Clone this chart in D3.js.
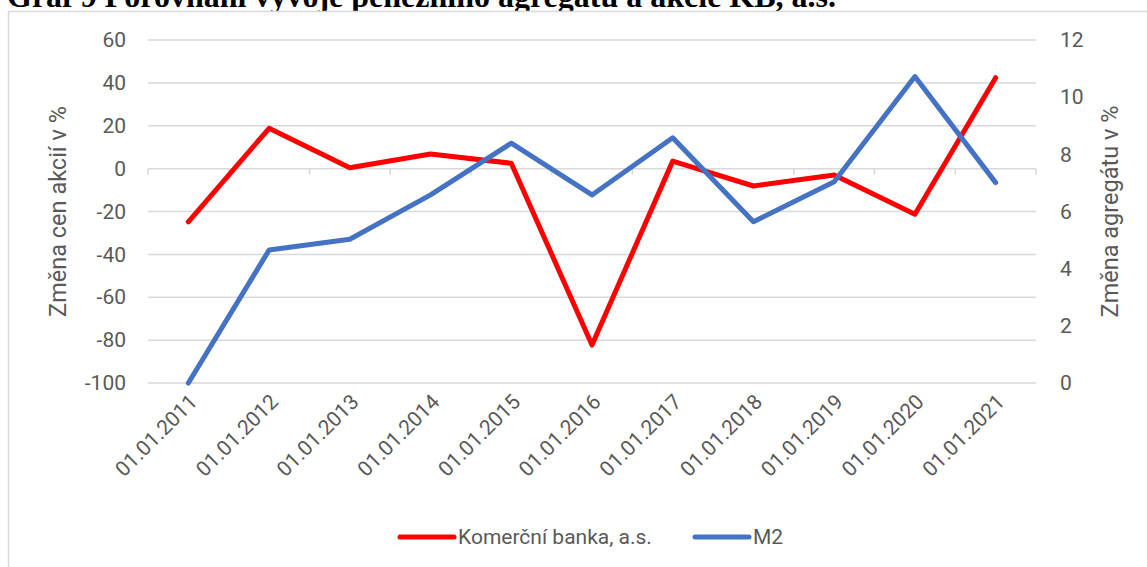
<!DOCTYPE html>
<meta charset="utf-8">
<style type="text/css">
body { margin: 0; background: #fff; }
text { font-family: Roboto, "Noto Sans", sans-serif; fill: #595959; }
.title { font-family: "Liberation Serif", "Times New Roman", serif; font-weight: bold; fill: #000; }
.grid line { stroke: #d9d9d9; stroke-width: 1.5; }
.axis path { display: none; }
</style>
<body>
<svg id="svg" width="1147" height="567"></svg>
<script src="https://cdn.jsdelivr.net/npm/d3@7"></script>
<script>
// categories and series
const dates = ["01.01.2011", "01.01.2012", "01.01.2013", "01.01.2014", "01.01.2015", "01.01.2016",
               "01.01.2017", "01.01.2018", "01.01.2019", "01.01.2020", "01.01.2021"];
const kbValues = [-24.8, 18.8, 0.4, 6.8, 2.5, -82.3, 3.5, -8.1, -3.0, -21.3, 42.4];
const m2Values = [0.0, 4.65, 5.03, 6.58, 8.39, 6.58, 8.58, 5.64, 7.04, 10.72, 7.01];
const leftTicks = [-100, -80, -60, -40, -20, 0, 20, 40, 60];
const rightTicks = [0, 2, 4, 6, 8, 10, 12];
const seriesNames = ["Komerční banka, a.s.", "M2"];
const seriesColors = ["#ff0000", "#4472c4"];

const svg = d3.select("#svg");
const plot = {left: 148, right: 1036, top: 40, bottom: 383};

// title (its lower half only shows above the chart frame, as in the reference)
svg.append("text")
  .attr("class", "title")
  .attr("x", 7)
  .attr("y", 7)
  .attr("font-size", 32)
  .text("Graf 9 Porovnání vývoje peněžního agregátu a akcie KB, a.s.");

// chart frame
svg.append("rect")
  .attr("x", 8.5).attr("y", 11.5)
  .attr("width", 1300).attr("height", 700)
  .attr("fill", "#fff")
  .attr("stroke", "#d9d9d9").attr("stroke-width", 1.5);

const x = d3.scaleBand().domain(dates).range([plot.left, plot.right]);
const cx = d => x(d) + x.bandwidth() / 2;
const yL = d3.scaleLinear().domain([-100, 60]).range([plot.bottom, plot.top]);
const yR = d3.scaleLinear().domain([0, 12]).range([plot.bottom, plot.top]);

// gridlines from the primary axis
svg.append("g").attr("class", "grid")
  .selectAll("line").data(leftTicks).enter().append("line")
    .attr("x1", plot.left).attr("x2", plot.right)
    .attr("y1", d => yL(d)).attr("y2", d => yL(d));

// category tick marks on the zero line
const boundaries = dates.map(d => x(d)).concat([plot.right]);
svg.append("g").attr("class", "grid")
  .selectAll("line").data(boundaries).enter().append("line")
    .attr("x1", d => d).attr("x2", d => d)
    .attr("y1", yL(0)).attr("y2", yL(0) + 6);

// left axis labels (plain hyphen for negatives, like Excel)
svg.append("g")
  .attr("class", "axis")
  .attr("transform", "translate(" + plot.left + ",0)")
  .call(d3.axisLeft(yL).tickValues(leftTicks).tickSize(0).tickPadding(22).tickFormat(d => String(d)))
  .selectAll("text").attr("font-size", 21).style("font-family", "Roboto").attr("fill", "#595959");

// right axis labels
svg.append("g")
  .attr("class", "axis")
  .attr("transform", "translate(" + plot.right + ",0)")
  .call(d3.axisRight(yR).tickValues(rightTicks).tickSize(0).tickPadding(24).tickFormat(d => String(d)))
  .selectAll("text").attr("font-size", 21).style("font-family", "Roboto").attr("fill", "#595959");

// category labels, rotated
svg.append("g").selectAll("text").data(dates).enter().append("text")
  .attr("font-size", 21)
  .attr("text-anchor", "end")
  .attr("dy", "0.35em")
  .attr("transform", d => "translate(" + (cx(d) + 5) + ",398) rotate(-45)")
  .text(d => d);

// axis titles
svg.append("text")
  .attr("font-size", 23.5)
  .attr("text-anchor", "middle")
  .attr("transform", "translate(66," + ((plot.top + plot.bottom) / 2) + ") rotate(-90)")
  .text("Změna cen akcií v %");

svg.append("text")
  .attr("font-size", 23.5)
  .attr("text-anchor", "middle")
  .attr("transform", "translate(1118," + ((plot.top + plot.bottom) / 2) + ") rotate(-90)")
  .text("Změna agregátu v %");

// series lines
const lineL = d3.line().x((d, i) => cx(dates[i])).y(d => yL(d));
const lineR = d3.line().x((d, i) => cx(dates[i])).y(d => yR(d));

svg.append("path").datum(kbValues)
  .attr("d", lineL)
  .attr("fill", "none").attr("stroke", seriesColors[0])
  .attr("stroke-width", 5).attr("stroke-linejoin", "round").attr("stroke-linecap", "round");

svg.append("path").datum(m2Values)
  .attr("d", lineR)
  .attr("fill", "none").attr("stroke", seriesColors[1])
  .attr("stroke-width", 5).attr("stroke-linejoin", "round").attr("stroke-linecap", "round");

// legend
const legendX = [400, 695];
const legend = svg.selectAll(".legend").data(seriesNames).enter().append("g")
  .attr("class", "legend")
  .attr("transform", (d, i) => "translate(" + legendX[i] + ",537)");
legend.append("line")
  .attr("x1", 0).attr("x2", 54)
  .attr("stroke", (d, i) => seriesColors[i])
  .attr("stroke-width", 5).attr("stroke-linecap", "round");
legend.append("text")
  .attr("x", 58)
  .attr("dy", "0.35em")
  .attr("font-size", 21)
  .text(d => d);
</script>
</body>
